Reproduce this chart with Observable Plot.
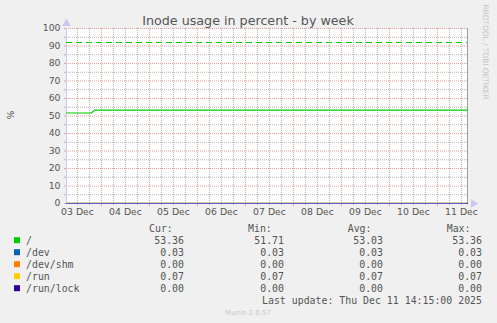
<!DOCTYPE html>
<html>
<head>
<meta charset="utf-8">
<script src="https://cdn.jsdelivr.net/npm/d3@7"></script>
<script src="https://cdn.jsdelivr.net/npm/@observablehq/plot@0.6"></script>
<style>
  html, body { margin: 0; padding: 0; background: #f0f0f0; }
</style>
</head>
<body>
<div id="chart"></div>
<script>
// ---- data ----
const seriesNames = ["/", "/dev", "/dev/shm", "/run", "/run/lock"];
const seriesColors = ["#00CC00", "#0066B3", "#FF8000", "#FFCC00", "#330099"];
const xDomain = ["2025-12-03T06:30:00Z", "2025-12-11T15:00:00Z"];
const times = ["2025-12-03T06:30:00Z", "2025-12-03T19:00:00Z", "2025-12-03T20:30:00Z", "2025-12-11T15:00:00Z"];
const rootValues = [51.71, 51.71, 53.36, 53.36];
const devValues = [0.03, 0.03, 0.03, 0.03];
const devShmValues = [0.00, 0.00, 0.00, 0.00];
const runValues = [0.07, 0.07, 0.07, 0.07];
const runLockValues = [0.00, 0.00, 0.00, 0.00];
const warning = [92];
const yTicks = [0, 10, 20, 30, 40, 50, 60, 70, 80, 90, 100];
const yMinor = [5, 15, 25, 35, 45, 55, 65, 75, 85, 95];
const dayLabels = ["03 Dec", "04 Dec", "05 Dec", "06 Dec", "07 Dec", "08 Dec", "09 Dec", "10 Dec", "11 Dec"];
const curValues = ["53.36", "0.03", "0.00", "0.07", "0.00"];
const minValues = ["51.71", "0.03", "0.00", "0.07", "0.00"];
const avgValues = ["53.03", "0.03", "0.00", "0.07", "0.00"];
const maxValues = ["53.36", "0.03", "0.00", "0.07", "0.00"];
const title = "Inode usage in percent - by week";
const yLabel = "%";
const lastUpdate = "Last update: Thu Dec 11 14:15:00 2025";
const footer = "Munin 2.0.57";
const watermark = "RRDTOOL / TOBI OETIKER";

// ---- build ----
const parse = d3.isoParse;
const x0 = parse(xDomain[0]), x1 = parse(xDomain[1]);
const allValues = [rootValues, devValues, devShmValues, runValues, runLockValues];
const rows = [];
seriesNames.forEach((s, i) => times.forEach((t, j) => rows.push({s, t: parse(t), v: allValues[i][j]})));

const fmt = d3.utcFormat("%d %b");
const dayStarts = d3.utcDay.range(d3.utcDay.ceil(x0), x1);
const sixHours = d3.utcHour.every(6).range(d3.utcHour.ceil(x0), x1);
const noons = d3.utcDay.range(d3.utcDay.floor(x0), x1).map(d => d3.utcHour.offset(d, 12))
  .filter(d => dayLabels.includes(fmt(d)));

const gridMinor = "#b4b4b4", gridMajor = "#e6a0a0", axisColor = "#c8c8f0";

const chart = Plot.plot({
  width: 497, height: 323,
  marginLeft: 66, marginRight: 30, marginTop: 28, marginBottom: 120,
  style: {background: "#f0f0f0", fontFamily: "DejaVu Sans", fontSize: "9.3px", color: "#555"},
  x: {type: "utc", domain: [x0, x1]},
  y: {domain: [0, 100]},
  color: {domain: seriesNames, range: seriesColors},
  marks: [
    Plot.frame({fill: "white", stroke: "none"}),
    Plot.ruleX(sixHours, {stroke: gridMinor, strokeDasharray: "1,1"}),
    Plot.ruleY(yMinor, {stroke: gridMinor, strokeDasharray: "1,1"}),
    Plot.ruleX(dayStarts, {stroke: gridMajor, strokeDasharray: "1,1"}),
    Plot.ruleY(yTicks, {stroke: gridMajor, strokeDasharray: "1,1"}),
    Plot.axisX({ticks: sixHours, tickSize: 2, stroke: gridMinor, tickFormat: () => "", label: null}),
    Plot.axisX({ticks: dayStarts, tickSize: 3, stroke: gridMajor, tickFormat: () => "", label: null}),
    Plot.axisY({ticks: yMinor, tickSize: 2, stroke: gridMinor, tickFormat: () => "", label: null}),
    Plot.axisY({ticks: yTicks, tickSize: 2, stroke: gridMajor, tickFormat: () => "", label: null}),
    Plot.ruleX([x1], {stroke: "#a0a0a0"}),
    Plot.ruleX([x0], {stroke: axisColor}),
    Plot.ruleY(warning, {stroke: seriesColors[0], strokeDasharray: "6,4", strokeWidth: 1}),
    Plot.line(rows, {x: "t", y: "v", z: "s", stroke: "s", strokeWidth: 1.2}),
    Plot.ruleY([0], {stroke: "#7a70cc", strokeOpacity: 0.8}),
    Plot.dot([x0], {x: d => d, y: () => yTicks[yTicks.length - 1], symbol: "triangle", r: 3.2, fill: axisColor, stroke: "none", dy: -5}),
    Plot.dot([x1], {x: d => d, y: () => yTicks[0], symbol: "triangle", r: 3.2, fill: axisColor, stroke: "none", rotate: 90, dx: 6}),
    Plot.axisY({ticks: yTicks, tickSize: 0, tickPadding: 6, label: null, fill: "#555"}),
    Plot.axisX({ticks: noons, tickSize: 0, tickPadding: 5, tickFormat: fmt, label: null, fill: "#555"})
  ]
});
document.getElementById("chart").appendChild(chart);

// ---- texts: title, labels, legend ----
const svg = d3.select(chart);
const g = svg.append("g").attr("fill", "#555");
g.append("text").attr("x", 248).attr("y", 25).attr("text-anchor", "middle")
  .attr("font-family", "DejaVu Sans").attr("font-size", "12.7px").text(title);
g.append("text").attr("transform", "translate(13.5,115) rotate(-90)").attr("text-anchor", "middle")
  .attr("font-family", "DejaVu Sans").attr("font-size", "9.3px").text(yLabel);
g.append("text").attr("transform", "translate(483,52) rotate(90)").attr("text-anchor", "middle")
  .attr("font-family", "DejaVu Sans").attr("font-size", "7.4px").attr("fill", "#c4c4c4").text(watermark);

const mono = g.append("g").attr("font-family", "DejaVu Sans Mono").attr("font-size", "9.9px")
  .attr("text-anchor", "start").style("white-space", "pre");
const headers = [["Cur:", 149], ["Min:", 248], ["Avg:", 347.7], ["Max:", 446.7]];
headers.forEach(([t, x]) => mono.append("text").attr("x", x).attr("y", 232).attr("text-anchor", "start").text(t));
const cols = [[curValues, 184], [minValues, 284], [avgValues, 383], [maxValues, 482]];
seriesNames.forEach((s, i) => {
  const y = 243.5 + i * 12;
  mono.append("rect").attr("x", 14).attr("y", y - 6.3).attr("width", 6).attr("height", 6).attr("fill", seriesColors[i]);
  mono.append("text").attr("x", 26).attr("y", y).attr("text-anchor", "start").text(s);
  cols.forEach(([arr, x]) => mono.append("text").attr("x", x).attr("y", y).attr("text-anchor", "end").text(arr[i]));
});
mono.append("text").attr("x", 482).attr("y", 303.5).attr("text-anchor", "end").text(lastUpdate);
g.append("text").attr("x", 248).attr("y", 315).attr("text-anchor", "middle")
  .attr("font-family", "DejaVu Sans").attr("font-size", "7px").attr("fill", "#c8c8c8").text(footer);
</script>
</body>
</html>
